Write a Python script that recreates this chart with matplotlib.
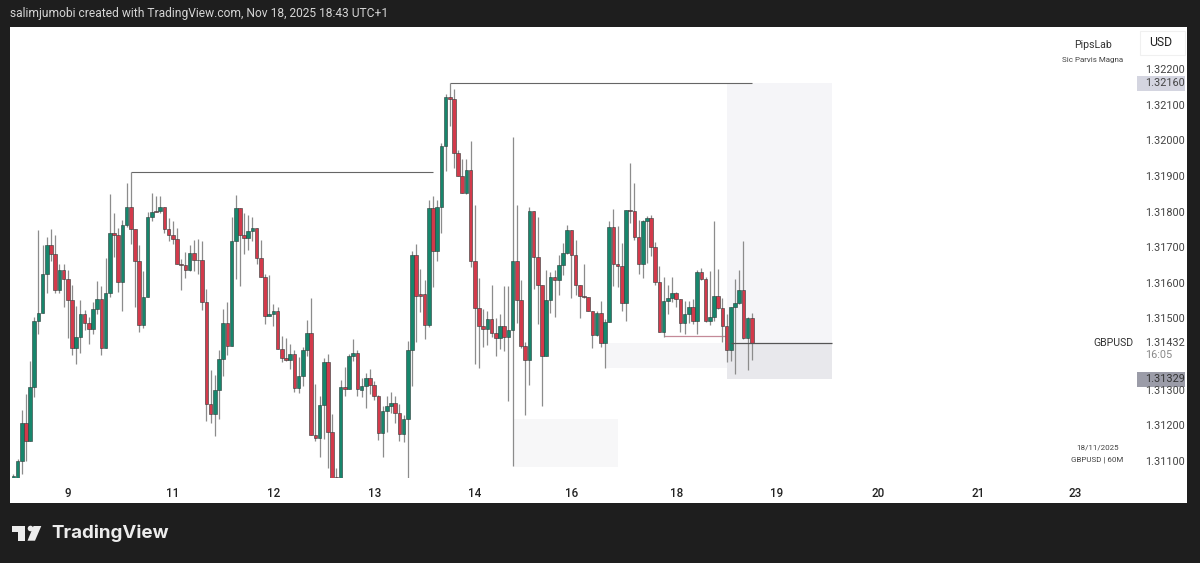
import numpy as np
import matplotlib
matplotlib.use("Agg")
import matplotlib.pyplot as plt
from matplotlib.patches import Rectangle, Polygon, Circle

BASE = 1.31  # the candle lists below are in points (1e-5) above this price

opens = [36,53,100,207,156,308,494,516,626,707,
         682,579,636,611,551,416,449,512,487,471,
         525,554,416,572,739,735,602,762,814,750,
         662,482,561,785,801,801,813,750,733,722,
         653,650,635,684,663,665,545,260,233,299,
         387,488,423,717,809,733,726,744,754,670,
         617,506,512,522,414,390,383,401,304,339,
         410,458,172,163,258,378,181,55,50,307,
         303,394,404,300,310,332,314,281,178,239,
         253,263,234,175,219,411,677,569,569,481,
         810,689,813,985,1122,1116,964,900,852,916,
         662,528,478,469,499,460,445,480,447,468,
         660,552,422,384,801,672,595,394,553,615,
         609,649,683,748,679,593,563,560,521,453,
         515,432,491,757,652,646,543,803,801,729,
         652,774,781,700,601,463,549,558,571,554,
         486,513,533,493,630,610,492,503,563,528,
         479,412,531,543,580,444,501]
closes = [59,100,207,156,308,494,516,626,707,682,
          579,636,611,551,416,449,512,487,471,525,
          554,416,572,739,735,602,762,814,750,662,
          482,561,785,798,798,813,750,733,722,653,
          650,635,684,664,665,545,260,233,299,387,
          488,423,717,809,733,726,744,754,670,617,
          506,512,522,414,390,383,401,304,339,410,
          458,172,163,258,378,181,50,45,307,303,
          394,404,302,310,332,314,281,178,239,253,
          263,234,175,219,411,677,563,563,481,810,
          689,813,985,1122,1116,964,900,852,916,662,
          528,478,469,499,460,445,480,447,468,660,
          552,422,384,801,672,595,394,553,615,609,
          649,683,748,679,593,563,560,521,453,514,
          432,491,757,652,646,543,805,801,729,652,
          774,781,700,601,463,549,558,571,554,486,
          513,533,493,630,610,492,503,563,528,479,
          412,531,543,580,444,501,430]
highs = [64,106,242,289,381,504,748,706,729,752,
         733,652,652,637,593,534,553,523,504,546,
         604,592,669,848,795,755,776,881,912,750,
         705,634,800,853,845,845,813,781,774,754,
         668,686,705,720,722,716,583,354,341,411,
         525,547,784,847,809,797,791,784,754,720,
         626,622,540,532,450,444,429,411,392,420,
         495,557,315,283,390,401,231,81,326,364,
         399,442,411,334,347,358,324,284,253,281,
         293,281,259,228,437,688,710,639,607,832,
         844,831,991,1131,1161,1144,973,947,947,998,
         819,613,527,520,595,501,512,590,592,1009,
         819,607,435,813,801,785,595,636,630,635,
         677,713,763,748,719,593,652,560,521,520,
         548,499,773,808,760,713,805,935,880,777,
         775,788,789,714,648,616,593,616,573,555,
         550,548,555,635,642,616,633,773,639,558,
         513,533,611,635,717,504,515]
lows = [36,45,64,101,156,279,457,514,570,662,
        572,572,532,446,397,373,403,467,427,456,
        512,396,416,559,673,575,521,757,710,531,
        461,474,561,774,798,795,739,718,709,652,
        581,613,634,634,626,523,212,206,169,218,
        339,396,423,611,592,680,692,718,652,617,
        484,506,480,414,379,381,358,293,291,309,
        394,172,156,111,162,81,50,40,50,281,
        302,381,281,279,249,287,272,159,111,180,
        234,206,156,152,53,309,433,518,441,476,
        588,660,741,913,1041,923,900,852,848,643,
        372,360,419,426,447,394,415,409,268,87,
        488,417,229,313,583,485,255,394,514,503,
        566,621,681,557,565,501,557,521,418,452,
        419,361,491,592,588,520,494,768,721,625,
        614,655,674,595,461,449,511,545,532,461,
        457,487,485,455,608,490,481,492,526,433,
        377,380,344,541,442,356,382]

price_ticks = [1.311, 1.312, 1.313, 1.315, 1.316, 1.317, 1.318, 1.319, 1.320, 1.321, 1.322]
day_ticks = [13, 38, 62, 86, 110, 133, 158, 182, 206, 230, 253]
day_labels = ['9', '11', '12', '13', '14', '16', '18', '19', '20', '21', '23']

GREEN = '#17866c'
RED = '#d33a4b'
WICK = '#8c8c8c'
DARK = '#1e1e1e'
LABEL_SIZE = 7.8

plt.rcParams['font.family'] = ['Roboto', 'DejaVu Sans']

o = BASE + np.array(opens) / 1e5
c = BASE + np.array(closes) / 1e5
h = BASE + np.array(highs) / 1e5
l = BASE + np.array(lows) / 1e5
x = np.arange(len(o))

fig = plt.figure(figsize=(12, 5.63), dpi=100, facecolor=DARK)

# pixel space backdrop for the white panel, logo and loose labels
bg = fig.add_axes([0, 0, 1, 1])
bg.set_xlim(0, 1200)
bg.set_ylim(563, 0)
bg.axis('off')
bg.add_patch(Rectangle((10, 27), 1177, 476, fc='white', ec='none'))

# logo
bg.add_patch(Polygon([(12, 526), (25, 526), (25, 540.7), (17.5, 540.7), (17.5, 532), (12, 532)],
                     fc='#ececec', ec='none'))
bg.add_patch(Circle((30.5, 528.5), 2.8, fc='#ececec', ec='none'))
bg.add_patch(Polygon([(33.5, 526), (41.3, 526), (35, 540.7), (27.5, 540.7)], fc='#ececec', ec='none'))
bg.text(51.5, 533.5, 'TradingView', family=['Inter', 'DejaVu Sans'], color='#ececec',
        fontsize=13.5, fontweight='bold', va='center')

bg.text(10, 13, 'salimjumobi created with TradingView.com, Nov 18, 2025 18:43 UTC+1',
        color='#d6d6d6', fontsize=8.65, va='center')

bg.add_patch(Rectangle((1140, 31), 45, 24, fc='white', ec='#f0f0f0', lw=0.8))
bg.text(1160.5, 43, 'USD', color='#222222', fontsize=8.8, ha='center', va='center')
bg.text(1093, 45, 'PipsLab', color='#333333', fontsize=7.6, ha='center', va='center')
bg.text(1093, 60, 'Sic Parvis Magna', color='#444444', fontsize=5.8, ha='center', va='center')
bg.text(1133, 343, 'GBPUSD', color='#333333', fontsize=7.6, ha='right', va='center')
bg.text(1098, 447, '18/11/2025', color='#444444', fontsize=5.8, ha='center', va='center')
bg.text(1097, 460, 'GBPUSD | 60M', color='#444444', fontsize=5.8, ha='center', va='center')

ax = fig.add_axes([10 / 1200, 1 - 478 / 563, 1127 / 1200, 451 / 563])
ax.patch.set_alpha(0)
ax.set_xlim(-0.79, 267.8)
ax.set_ylim(1.31052, 1.32318)
for s in ax.spines.values():
    s.set_visible(False)

ax.yaxis.tick_right()
ax.set_yticks(price_ticks)
ax.set_yticklabels(['%.5f' % p for p in price_ticks])
ax.set_xticks(day_ticks)
ax.set_xticklabels(day_labels, fontweight='medium')
ax.tick_params(axis='y', length=0, pad=6, labelsize=LABEL_SIZE, labelcolor='#444444')
ax.tick_params(axis='x', length=0, pad=6.5, labelsize=8.4, labelcolor='#222222')

# zones
ax.add_patch(Rectangle((170, 1.31432), 25, 0.00728, fc='#f5f5f8', ec='none', zorder=1))
ax.add_patch(Rectangle((170, 1.31329), 25, 0.00103, fc='#e8e8ec', ec='none', zorder=1))
ax.add_patch(Rectangle((141, 1.31361), 29, 0.00071, fc='#f6f6f8', ec='none', zorder=1))
ax.add_patch(Rectangle((119, 1.31083), 25, 0.00135, fc='#f7f7f8', ec='none', zorder=1))

# swing lines
ax.hlines(1.3191, 28, 100, color='#666666', lw=0.8, zorder=2)
ax.hlines(1.3216, 104, 176, color='#666666', lw=0.8, zorder=2)
ax.hlines(1.3145, 155, 169.6, color='#c48a98', lw=0.9, zorder=2)

up = c >= o
ax.vlines(x, l, h, color=WICK, lw=0.9, zorder=3)
ax.bar(x, np.abs(c - o), bottom=np.minimum(o, c), width=0.86,
       color=np.where(up, GREEN, RED), edgecolor='#2b3a38', linewidth=0.4, zorder=4)

ax.hlines(1.31432, 171, 195, color='#555555', lw=0.9, zorder=5)

# price scale highlights
yt = ax.get_yaxis_transform()
for price, col in [(1.32160, '#d4d5e0'), (1.31329, '#9b9ca8')]:
    ax.add_patch(Rectangle((1.0, price - 0.00021), 0.0426, 0.00042, transform=yt,
                           fc=col, ec='none', clip_on=False, zorder=0))
ax.text(1.0071, 1.32160, '1.32160', transform=yt, color='#444444', fontsize=LABEL_SIZE, va='center')
ax.text(1.0071, 1.31329, '1.31329', transform=yt, color='#333333', fontsize=LABEL_SIZE, va='center')
ax.text(1.0071, 1.31432, '1.31432', transform=yt, color='#444444', fontsize=LABEL_SIZE, va='center')
ax.text(1.0071, 1.31397, '16:05', transform=yt, color='#888888', fontsize=LABEL_SIZE, va='center')

fig.savefig('out.png', dpi=100, facecolor=DARK)
